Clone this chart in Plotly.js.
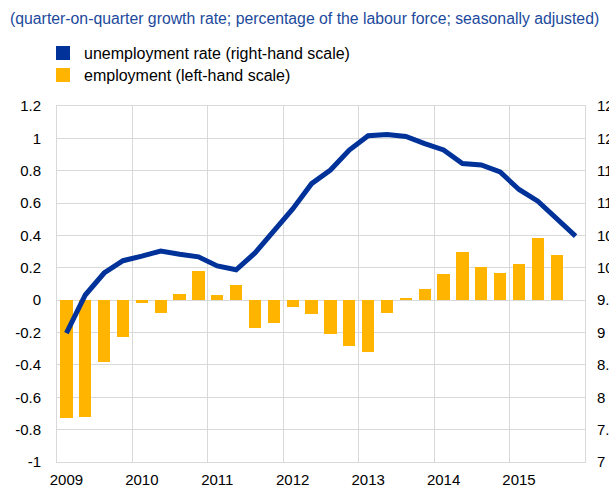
<!DOCTYPE html>
<html><head><meta charset="utf-8">
<script src="https://cdn.plot.ly/plotly-3.0.1.min.js"></script>
<style>html,body{margin:0;padding:0;background:#fff;overflow:hidden}</style>
</head><body><div id="chart" style="width:609px;height:487px"></div>
<script>
// employment: quarter-on-quarter growth rate (left-hand scale)
const employmentQuarters = [
  '2009Q1','2009Q2','2009Q3','2009Q4','2010Q1','2010Q2','2010Q3','2010Q4',
  '2011Q1','2011Q2','2011Q3','2011Q4','2012Q1','2012Q2','2012Q3','2012Q4',
  '2013Q1','2013Q2','2013Q3','2013Q4','2014Q1','2014Q2','2014Q3','2014Q4',
  '2015Q1','2015Q2','2015Q3'];
const employment = [
  -0.73,-0.72,-0.38,-0.23,-0.02,-0.08,0.04,0.18,
  0.035,0.095,-0.17,-0.14,-0.04,-0.085,-0.21,-0.285,
  -0.32,-0.08,0.012,0.07,0.163,0.30,0.203,0.167,
  0.222,0.387,0.282];
// unemployment rate: percentage of the labour force (right-hand scale)
const unemploymentQuarters = [
  '2009Q1','2009Q2','2009Q3','2009Q4','2010Q1','2010Q2','2010Q3','2010Q4',
  '2011Q1','2011Q2','2011Q3','2011Q4','2012Q1','2012Q2','2012Q3','2012Q4',
  '2013Q1','2013Q2','2013Q3','2013Q4','2014Q1','2014Q2','2014Q3','2014Q4',
  '2015Q1','2015Q2','2015Q3','2015Q4'];
const unemployment = [
  8.99,9.58,9.92,10.11,10.18,10.26,10.21,10.17,
  10.03,9.97,10.23,10.56,10.91,11.30,11.51,11.82,
  12.04,12.06,12.03,11.92,11.82,11.61,11.59,11.48,
  11.21,11.03,10.75,10.49];
const yearLabels = ['2009','2010','2011','2012','2013','2014','2015'];
const yearBounds = [2009,2010,2011,2012,2013,2014,2015,2016];
const leftTickValues = [-1,-0.8,-0.6,-0.4,-0.2,0,0.2,0.4,0.6,0.8,1,1.2];
const leftTickLabels = ['-1','-0.8','-0.6','-0.4','-0.2','0','0.2','0.4','0.6','0.8','1','1.2'];
const rightTickValues = [7,7.5,8,8.5,9,9.5,10,10.5,11,11.5,12,12.5];
const rightTickLabels = ['7','7.5','8','8.5','9','9.5','10','10.5','11','11.5','12','12.5'];
const titleText = '(quarter-on-quarter growth rate; percentage of the labour force; seasonally adjusted)';
const legendLabels = ['unemployment rate (right-hand scale)','employment (left-hand scale)'];

const BLUE = '#003299', YELLOW = '#FFB400', GRID = '#d9d9d9';
function qpos(q){ const y = +q.slice(0,4), n = +q.slice(5); return y + (n-1)/4 + 0.125; }

const traces = [
  {type:'bar', x: employmentQuarters.map(qpos), y: employment, width: 0.1625,
   marker:{color: YELLOW, line:{width:0}}, showlegend:false, hoverinfo:'skip'},
  {type:'scatter', mode:'lines', x: unemploymentQuarters.map(qpos), y: unemployment, yaxis:'y2',
   line:{color: BLUE, width:5}, showlegend:false, hoverinfo:'skip'}
];

// plot area: x 57..585, y 106..462
const PW = 528, PH = 356, L = 57, T = 106;
const px = v => (v - L)/PW, py = v => (T + PH - v)/PH;

const layout = {
  width:609, height:487, margin:{l:57, r:24, t:106, b:25, autoexpand:false},
  paper_bgcolor:'#fff', plot_bgcolor:'#fff',
  font:{family:'Liberation Sans, Arial, sans-serif', size:15, color:'#000'},
  showlegend:false, bargap:0,
  xaxis:{range:[2009,2016], tickmode:'array', tickvals: yearLabels.map(y => +y + 0.125), ticktext: yearLabels,
    showgrid:false, zeroline:false, showline:true, linecolor:GRID, linewidth:1, mirror:true,
    ticks:'', ticklabelstandoff:4, fixedrange:true,
    minor:{tickmode:'array', tickvals: yearBounds, showgrid:true, gridcolor:GRID, gridwidth:1, ticks:''}},
  yaxis:{range:[-1,1.2], tickmode:'array', tickvals:leftTickValues, ticktext:leftTickLabels,
    showgrid:true, gridcolor:GRID, gridwidth:1, zeroline:false, showline:true, linecolor:GRID, mirror:true,
    ticks:'', ticklabelstandoff:12, fixedrange:true},
  yaxis2:{range:[7,12.5], overlaying:'y', side:'right', tickmode:'array', tickvals:rightTickValues, ticktext:rightTickLabels,
    showgrid:false, zeroline:false, showline:false, ticks:'', ticklabelstandoff:11, fixedrange:true},
  shapes:[
    {type:'rect', xref:'paper', yref:'paper', x0:px(56), x1:px(70), y0:py(60), y1:py(46), fillcolor:BLUE, line:{width:0}},
    {type:'rect', xref:'paper', yref:'paper', x0:px(56), x1:px(70), y0:py(82), y1:py(68), fillcolor:YELLOW, line:{width:0}}
  ],
  annotations:[
    {text:titleText, xref:'paper', yref:'paper', x:px(8), y:py(18), xanchor:'left', yanchor:'middle', showarrow:false,
     font:{size:15.8, color:'#1c4a9c'}},
    {text:legendLabels[0], xref:'paper', yref:'paper', x:px(82), y:py(53), xanchor:'left', yanchor:'middle', showarrow:false,
     font:{size:16, color:'#000'}},
    {text:legendLabels[1], xref:'paper', yref:'paper', x:px(82), y:py(75), xanchor:'left', yanchor:'middle', showarrow:false,
     font:{size:16, color:'#000'}}
  ]
};
Plotly.newPlot('chart', traces, layout, {staticPlot:true, displayModeBar:false});
</script></body></html>
